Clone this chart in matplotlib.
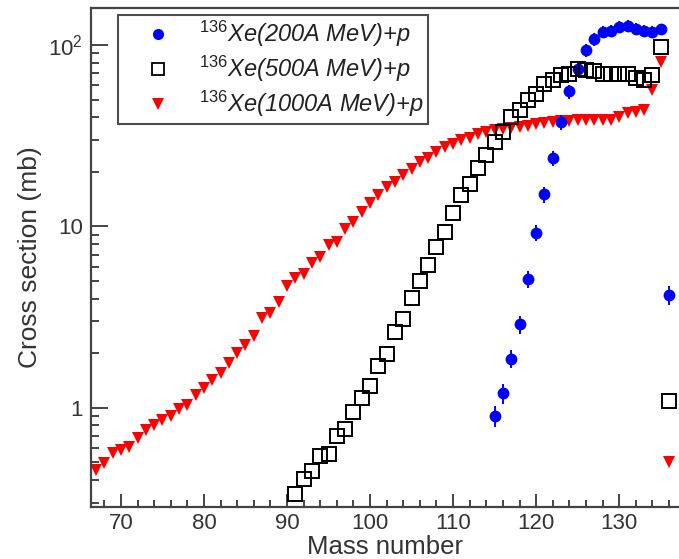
import matplotlib
matplotlib.use("Agg")
import matplotlib.pyplot as plt
from matplotlib.ticker import FixedLocator, NullFormatter, FixedFormatter, MultipleLocator

plt.rcParams['font.family'] = ['Liberation Sans', 'DejaVu Sans']
plt.rcParams['mathtext.fontset'] = 'custom'
plt.rcParams['mathtext.rm'] = 'Liberation Sans'
plt.rcParams['mathtext.it'] = 'Liberation Sans:italic'

# ---- data ----
mass_1000 = list(range(67, 137))
xs_1000 = [0.454, 0.494, 0.561, 0.585, 0.610, 0.678, 0.754, 0.803, 0.856, 0.900,
           0.980, 1.035, 1.175, 1.28, 1.42, 1.55, 1.77, 2.01, 2.21, 2.48,
           3.11, 3.34, 3.84, 4.7, 5.2, 5.5, 6.25, 6.8, 7.9, 8.2,
           9.7, 10.6, 12.0, 13.4, 14.9, 16.4, 17.6, 19.1, 20.8, 22.7,
           23.7, 25.7, 27.4, 28.6, 30.1, 30.9, 32.5, 33.2, 34.0, 34.5,
           35.0, 35.5, 36.0, 36.5, 37.0, 37.5, 38.0, 38.0, 38.5, 38.5,
           38.5, 38.5, 38.5, 40.0, 42.0, 43.0, 44.0, 56.8, 80.6, 0.50]

mass_500 = list(range(91, 137))
xs_500 = [0.333, 0.403, 0.448, 0.544, 0.556, 0.701, 0.763, 0.943, 1.14, 1.32,
          1.70, 1.99, 2.62, 3.08, 4.05, 5.03, 6.11, 7.70, 9.32, 11.8,
          14.9, 17.2, 21.1, 24.7, 29.2, 33.2, 40.1, 43.7, 49.6, 54.0,
          61.2, 63.8, 68.0, 69.5, 74.0, 73.0, 72.0, 69.0, 69.0, 69.0,
          69.0, 66.0, 64.0, 68.0, 97.0, 1.09]

mass_200 = list(range(115, 137))
xs_200 = [0.90, 1.20, 1.87, 2.88, 5.10, 9.21, 15.0, 23.7, 37.5, 55.5,
          74.0, 93.5, 108.0, 118.0, 120.0, 126.0, 128.0, 123.0, 120.0, 118.0,
          122.0, 4.18]
err_200 = [0.12, 0.15, 0.22, 0.33, 0.55, 0.95, 1.5, 2.3, 3.5, 5.0,
           6.5, 8.0, 9.0, 9.0, 9.0, 9.0, 9.0, 9.0, 9.0, 9.0,
           9.0, 0.5]

labels = [r"$^{\mathit{136}}$Xe(200A MeV)+p",
          r"$^{\mathit{136}}$Xe(500A MeV)+p",
          r"$^{\mathit{136}}$Xe(1000A MeV)+p"]

xticks = [70, 80, 90, 100, 110, 120, 130]
yticks = [1, 10, 100]
ytick_labels = ["1", "10", r"$10^{2}$"]

# ---- figure ----
W, H = 679, 559
fig = plt.figure(figsize=(W / 100, H / 100), dpi=100)
ax = fig.add_axes([91 / W, 52 / H, 588 / W, 499 / H])

text_col = '#333333'
axis_col = '#444444'

ax.plot(mass_1000, xs_1000, linestyle='none', marker='v', color='red',
        markersize=8, markeredgewidth=0, zorder=2)
ax.errorbar(mass_200, xs_200, yerr=err_200, fmt='o', color='blue',
            markersize=8.5, markeredgewidth=0, elinewidth=1.4,
            capsize=2.3, capthick=1.4, zorder=3)
ax.plot(mass_500, xs_500, linestyle='none', marker='s', markerfacecolor='none',
        markeredgecolor='black', markersize=9.5, markeredgewidth=1.4, zorder=4)

# legend handles
h_blue, = ax.plot([], [], linestyle='none', marker='o', color='blue',
                  markersize=8, markeredgewidth=0)
h_black, = ax.plot([], [], linestyle='none', marker='s', markerfacecolor='none',
                   markeredgecolor='black', markersize=8.5, markeredgewidth=1.3)
h_red, = ax.plot([], [], linestyle='none', marker='v', color='red',
                 markersize=8, markeredgewidth=0)

ax.set_yscale('log')
ax.set_xlim(66.4, 137.2)
ax.set_ylim(0.284, 160)

ax.xaxis.set_major_locator(FixedLocator(xticks))
ax.xaxis.set_minor_locator(MultipleLocator(2))
ax.yaxis.set_major_locator(FixedLocator(yticks))
ax.yaxis.set_major_formatter(FixedFormatter(ytick_labels))
minors = [m * 10.0 ** e for e in (-1, 0, 1, 2) for m in range(2, 10)]
ax.yaxis.set_minor_locator(FixedLocator(minors))
ax.yaxis.set_minor_formatter(NullFormatter())

ax.tick_params(axis='both', which='both', direction='in', colors=axis_col,
               labelcolor=text_col, width=1.4, labelsize=16)
ax.tick_params(axis='x', which='major', length=9.5, pad=4.5)
ax.tick_params(axis='x', which='minor', length=5)
ax.tick_params(axis='y', which='major', length=12, pad=6)
ax.tick_params(axis='y', which='minor', length=6)

for s in ['left', 'bottom', 'top']:
    ax.spines[s].set_color(axis_col)
    ax.spines[s].set_linewidth(1.6)
ax.spines['right'].set_visible(False)

ax.set_xlabel("Mass number", fontsize=18.5, color=text_col, labelpad=0.5)
ax.set_ylabel("Cross section (mb)", fontsize=19, color=text_col, labelpad=4)

leg = ax.legend([h_blue, h_black, h_red], labels, loc='upper left',
                bbox_to_anchor=(27 / 588, 1 - 7 / 499), borderaxespad=0,
                prop={'style': 'italic', 'size': 17}, frameon=True, fancybox=False,
                edgecolor='#222222', borderpad=0.18, handlelength=3.0,
                handletextpad=0.25, labelspacing=0.2)
leg.get_frame().set_linewidth(1.5)
for t in leg.get_texts():
    t.set_color('#222222')

fig.savefig("out.png", dpi=100)
